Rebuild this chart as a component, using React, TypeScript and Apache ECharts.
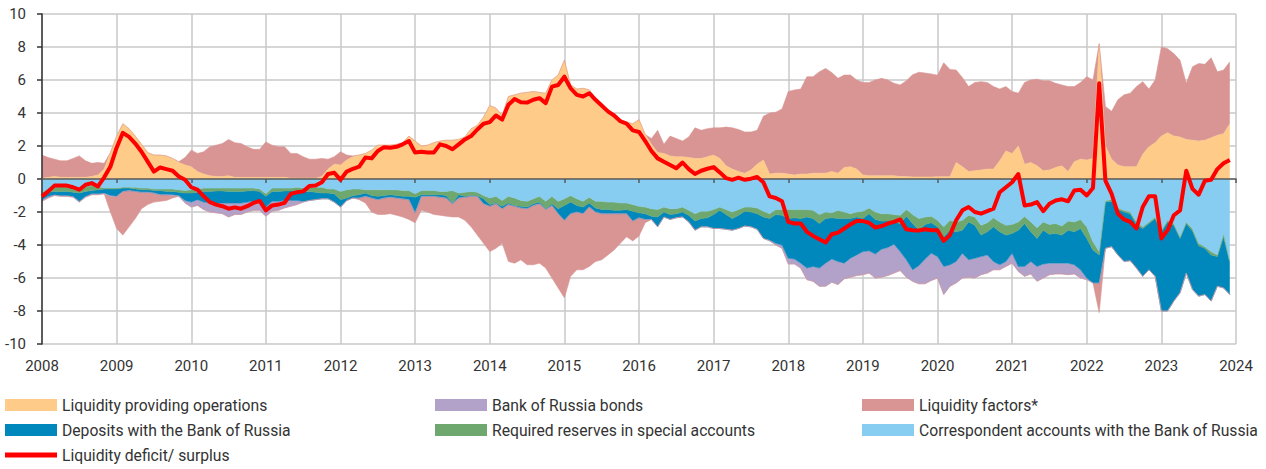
import React, { useEffect, useRef } from "react";
import * as echarts from "echarts";

// Monthly observations, Jan 2008 .. Dec 2023 (trillion roubles)
const liquidityProviding = [
  0.05, 0.1, 0.15, 0.1, 0.1, 0.1, 0.1, 0.1, 0.15, 0.25, 0.6, 1.6,
  2.6, 3.35, 3.05, 2.6, 2.1, 1.6, 1.45, 1.45, 1.4, 1.25, 1.0, 0.85,
  0.75, 0.45, 0.3, 0.2, 0.15, 0.15, 0.2, 0.1, 0.1, 0.1, 0.1, 0.1,
  0.1, 0.1, 0.1, 0.1, 0.05, 0.05, 0.05, 0.05, 0.05, 0.15, 0.6, 0.9,
  0.85, 1.15, 1.35, 1.45, 1.55, 1.75, 2.05, 2.05, 2.05, 2.1, 2.2, 2.6,
  2.3, 2.0, 2.05, 2.2, 2.3, 2.35, 2.35, 2.4, 2.55, 3.05, 3.25, 3.75,
  4.45, 4.3, 3.85, 5.0, 5.1, 5.2, 5.25, 5.3, 5.25, 5.2, 6.0, 6.3,
  7.2, 5.7, 5.45, 5.5, 5.4, 4.9, 4.5, 4.2, 3.85, 3.6, 3.45, 3.35,
  3.6, 2.7, 2.1, 1.6, 1.55, 1.4, 1.35, 1.35, 1.3, 1.25, 1.25, 1.35,
  1.45, 1.25, 0.8, 0.6, 0.45, 0.35, 0.55, 0.9, 1.15, 0.3, 0.35, 0.35,
  0.3, 0.25, 0.3, 0.3, 0.35, 0.35, 0.35, 0.45, 0.35, 0.7, 0.75, 0.6,
  0.25, 0.2, 0.2, 0.2, 0.2, 0.2, 0.15, 0.15, 0.12, 0.12, 0.12, 0.12,
  0.14, 0.14, 0.14, 1.0, 0.75, 0.45, 0.5, 0.55, 0.6, 0.6, 1.1, 1.7,
  1.55, 2.0, 0.9, 1.0, 0.8, 0.5, 0.55, 0.7, 0.8, 0.45, 1.05, 1.2,
  1.15, 1.25, 8.2, 2.0, 1.2, 0.85, 0.75, 0.75, 0.75, 1.5, 1.95, 2.2,
  2.6, 2.8, 2.6, 2.55, 2.4, 2.35, 2.3, 2.35, 2.5, 2.65, 2.75, 3.35,
];

const liquidityFactors = [
  1.4, 1.2, 1.05, 1.0, 1.0, 1.15, 1.3, 1.0, 0.8, 0.75, 0.35, -0.95,
  -1.95, -2.65, -2.2, -1.65, -1.0, -0.75, -0.55, -0.4, -0.35, -0.15, 0.05, 0.45,
  1.0, 1.1, 1.35, 1.75, 1.9, 2.0, 2.2, 2.1, 2.05, 1.85, 1.7, 1.7,
  2.15, 1.95, 1.85, 1.85, 1.5, 1.5, 1.3, 1.15, 1.15, 1.1, 0.6, 0.45,
  0.8, 0.3, 0.05, -0.1, -0.4, -0.85, -0.9, -1.0, -1.0, -1.05, -1.1, -1.2,
  -0.6, -0.85, -0.95, -1.1, -1.1, -1.1, -0.8, -1.15, -1.4, -1.85, -2.35, -2.4,
  -2.75, -2.7, -2.1, -3.45, -3.45, -3.15, -3.4, -3.6, -3.6, -3.55, -4.4, -4.5,
  -4.7, -3.8, -3.5, -3.4, -3.6, -3.0, -2.8, -2.5, -2.2, -1.8, -1.4, -1.2,
  -1.1, -0.2, 0.35, 1.35, 0.55, 1.2, 1.1, 0.95, 1.25, 1.85, 1.7, 1.7,
  1.65, 1.85, 2.35, 2.5, 2.55, 2.5, 2.3, 2.05, 2.65, 3.7, 3.7, 3.9,
  5.0, 5.15, 5.15, 5.9, 5.85, 6.15, 6.35, 6.0, 5.75, 5.6, 5.55, 5.4,
  5.6, 5.65, 5.8, 5.9, 5.8, 5.6, 5.55, 5.8, 6.2, 6.35, 6.3, 6.25,
  6.15, 6.9, 6.5, 5.6, 5.4, 5.15, 5.35, 5.35, 5.25, 5.0, 4.35, 3.9,
  3.75, 3.2, 4.95, 5.0, 5.25, 5.45, 5.4, 5.1, 4.9, 5.15, 4.55, 4.65,
  5.05, 4.75, -1.8, 2.4, 2.9, 3.95, 4.35, 4.45, 4.85, 4.4, 3.5, 3.8,
  5.4, 5.1, 5.0, 4.65, 3.4, 4.45, 4.7, 4.6, 4.85, 3.85, 3.85, 3.75,
];

const correspondentAccounts = [
  -0.85, -0.55, -0.45, -0.45, -0.45, -0.5, -0.55, -0.45, -0.4, -0.45, -0.55, -0.55,
  -0.55, -0.5, -0.5, -0.5, -0.55, -0.55, -0.6, -0.6, -0.6, -0.6, -0.65, -0.7,
  -0.65, -0.6, -0.55, -0.55, -0.55, -0.55, -0.55, -0.55, -0.55, -0.55, -0.55, -0.6,
  -0.9, -0.55, -0.55, -0.55, -0.55, -0.5, -0.55, -0.5, -0.5, -0.5, -0.6, -0.6,
  -0.75, -0.65, -0.6, -0.6, -0.65, -0.65, -0.65, -0.65, -0.65, -0.65, -0.7, -0.7,
  -0.9, -0.7, -0.7, -0.7, -0.75, -0.75, -0.7, -0.85, -0.8, -0.75, -0.8, -1.0,
  -1.15, -1.05, -1.3, -1.05, -1.15, -1.3, -1.35, -1.2, -1.05, -1.35, -1.05, -1.35,
  -1.2, -1.0, -1.2, -1.35, -1.1, -1.35, -1.35, -1.4, -1.4, -1.45, -1.45, -1.55,
  -1.65, -1.7, -1.8, -1.85, -1.7, -1.8, -1.8, -1.7, -1.9, -2.1, -1.95, -1.95,
  -1.85, -1.7, -1.85, -2.0, -1.85, -1.7, -1.7, -1.75, -1.95, -2.1, -1.85, -1.85,
  -1.85, -1.85, -1.85, -1.85, -1.9, -2.15, -2.0, -2.05, -1.9, -2.0, -2.1, -2.0,
  -1.95, -1.75, -2.0, -2.1, -2.1, -2.15, -2.2, -1.85, -2.15, -2.4, -2.3, -2.25,
  -2.5, -2.9, -2.5, -2.6, -2.5, -2.2, -2.3, -2.8, -2.65, -2.35, -2.6, -2.8,
  -2.75, -2.6, -2.25, -2.6, -2.95, -2.6, -2.75, -2.7, -2.85, -2.55, -2.6, -2.45,
  -2.9, -3.8, -4.4, -1.3, -1.25, -1.75, -1.9, -2.0, -2.6, -2.9, -2.6, -2.3,
  -3.1, -2.5, -2.7, -3.5, -2.6, -3.0, -3.9, -4.1, -4.4, -4.6, -3.3, -5.0,
];

const requiredReserves = [
  -0.2, -0.25, -0.3, -0.3, -0.3, -0.3, -0.3, -0.3, -0.3, -0.2, -0.05, -0.05,
  -0.05, -0.05, -0.05, -0.1, -0.1, -0.1, -0.1, -0.1, -0.15, -0.15, -0.15, -0.15,
  -0.2, -0.2, -0.2, -0.2, -0.17, -0.17, -0.2, -0.2, -0.2, -0.17, -0.15, -0.15,
  -0.15, -0.2, -0.2, -0.17, -0.17, -0.2, -0.2, -0.25, -0.3, -0.35, -0.25, -0.3,
  -0.5, -0.5, -0.4, -0.35, -0.2, -0.35, -0.4, -0.35, -0.3, -0.35, -0.35, -0.35,
  -0.2, -0.25, -0.25, -0.25, -0.2, -0.25, -0.75, -0.1, -0.25, -0.25, -0.2, -0.2,
  -0.4, -0.4, -0.35, -0.4, -0.45, -0.35, -0.35, -0.3, -0.35, -0.45, -0.45, -0.45,
  -0.4, -0.4, -0.4, -0.35, -0.35, -0.4, -0.5, -0.45, -0.5, -0.45, -0.4, -0.4,
  -0.4, -0.4, -0.45, -0.45, -0.3, -0.35, -0.3, -0.3, -0.3, -0.45, -0.45, -0.4,
  -0.3, -0.2, -0.3, -0.4, -0.35, -0.25, -0.3, -0.35, -0.35, -0.3, -0.3, -0.35,
  -0.55, -0.5, -0.55, -0.45, -0.5, -0.55, -0.4, -0.3, -0.5, -0.4, -0.3, -0.3,
  -0.45, -0.35, -0.45, -0.45, -0.45, -0.45, -0.5, -0.4, -0.55, -0.7, -0.45, -0.4,
  -0.4, -0.6, -0.6, -0.6, -0.6, -0.4, -0.5, -0.6, -0.55, -0.55, -0.6, -0.6,
  -0.55, -0.5, -0.45, -0.6, -0.65, -0.5, -0.6, -0.6, -0.55, -0.55, -0.6, -0.55,
  -0.7, -0.5, -0.2, -0.1, -0.1, -0.1, -0.1, -0.1, -0.15, -0.1, -0.1, -0.1,
  -0.1, -0.1, -0.1, -0.1, -0.1, -0.15, -0.15, -0.1, -0.2, -0.1, -0.2, -0.05,
];

const deposits = [
  -0.2, -0.25, -0.2, -0.25, -0.25, -0.25, -0.5, -0.3, -0.2, -0.25, -0.25, -0.4,
  -0.45, -0.2, -0.15, -0.15, -0.15, -0.15, -0.15, -0.25, -0.2, -0.2, -0.2, -0.45,
  -0.55, -0.45, -0.65, -0.7, -0.73, -0.73, -0.7, -0.7, -0.7, -0.68, -0.65, -0.65,
  -0.65, -0.6, -0.6, -0.58, -0.58, -0.6, -0.6, -0.55, -0.45, -0.35, -0.35, -0.5,
  -0.45, -0.15, -0.15, -0.2, -0.2, -0.15, -0.2, -0.15, -0.15, -0.15, -0.15, -0.2,
  -0.95, -0.1, -0.1, -0.1, -0.15, -0.15, -0.05, -0.2, -0.05, -0.05, -0.05, -0.3,
  -0.1, -0.05, -0.15, -0.1, -0.05, -0.1, -0.1, -0.1, -0.1, -0.05, -0.1, -0.3,
  -0.9, -0.7, -0.4, -0.4, -0.25, -0.25, -0.25, -0.25, -0.2, -0.2, -0.25, -0.6,
  -0.3, -0.35, -0.2, -0.6, -0.3, -0.3, -0.25, -0.3, -0.4, -0.55, -0.5, -0.55,
  -0.85, -1.1, -0.9, -0.7, -0.8, -0.9, -0.9, -0.95, -1.3, -1.3, -1.75, -1.8,
  -2.4, -2.5, -2.7, -3.1, -2.9, -2.7, -2.7, -2.5, -2.6, -2.7, -2.4, -2.3,
  -2.0, -2.25, -2.1, -1.7, -1.6, -1.35, -1.7, -2.65, -2.8, -2.15, -2.1, -1.85,
  -1.8, -1.8, -2.1, -1.8, -1.4, -2.3, -2.0, -1.3, -1.4, -2.1, -2.0, -1.6,
  -1.2, -2.2, -2.6, -1.8, -1.7, -2.05, -1.75, -1.8, -1.7, -2.0, -2.0, -2.5,
  -2.4, -2.0, -1.7, -2.8, -2.75, -2.75, -3.0, -2.85, -2.65, -2.9, -2.8, -3.5,
  -4.8, -5.4, -4.6, -3.3, -3.0, -3.55, -3.05, -2.8, -2.8, -1.8, -3.1, -1.95,
];

const bankOfRussiaBonds = [
  -0.1, -0.1, -0.05, -0.05, -0.05, -0.05, -0.05, -0.05, -0.05, -0.05, -0.05, -0.05,
  0, 0, 0, 0, 0, 0, 0, 0, 0, -0.05, -0.05, -0.15,
  -0.3, -0.35, -0.45, -0.55, -0.6, -0.65, -0.85, -0.7, -0.7, -0.6, -0.55, -0.5,
  -0.55, -0.6, -0.55, -0.45, -0.35, -0.25, -0.05, 0, 0, 0, 0, 0,
  0, 0, 0, 0, 0, 0, 0, 0, 0, 0, 0, 0,
  0, 0, 0, 0, 0, 0, 0, 0, 0, 0, 0, 0,
  0, 0, 0, 0, 0, 0, 0, 0, 0, 0, 0, 0,
  0, 0, 0, 0, 0, 0, 0, 0, 0, 0, 0, 0,
  0, 0, 0, 0, 0, 0, 0, 0, 0, 0, 0, 0,
  0, 0, 0, 0, 0, 0, 0, 0, 0, -0.05, -0.1, -0.2,
  -0.35, -0.3, -0.3, -0.7, -0.9, -1.1, -1.4, -1.4, -1.4, -0.95, -1.15, -1.25,
  -1.4, -1.35, -1.45, -1.7, -1.7, -1.75, -1.15, -1.05, -0.7, -1.1, -1.5, -1.65,
  -1.3, -1.7, -1.3, -1.3, -1.5, -1.05, -1.2, -1.1, -1.1, -0.5, -0.3, -0.3,
  -0.6, -0.3, -0.6, -0.75, -0.9, -0.85, -0.7, -0.65, -0.65, -0.7, -0.55, -0.5,
  -0.1, 0, 0, 0, 0, 0, 0, 0, 0, 0, 0, 0,
  0, 0, 0, 0, 0, 0, 0, 0, 0, 0, 0, 0,
];

const liquidityDeficitSurplus = [
  -1.05, -0.75, -0.4, -0.4, -0.4, -0.5, -0.65, -0.35, -0.25, -0.45, 0.1, 0.75,
  1.9, 2.8, 2.55, 2.15, 1.65, 1.05, 0.45, 0.7, 0.6, 0.5, 0.15, -0.05,
  -0.5, -0.65, -1.05, -1.4, -1.55, -1.65, -1.8, -1.72, -1.8, -1.65, -1.45, -1.33,
  -1.9, -1.6, -1.55, -1.45, -0.9, -0.8, -0.75, -0.42, -0.4, -0.2, 0.3, 0.38,
  -0.05, 0.45, 0.62, 0.75, 1.3, 1.25, 1.7, 1.93, 1.9, 1.95, 2.1, 2.3,
  1.6, 1.65, 1.6, 1.6, 2.1, 2.0, 1.8, 2.1, 2.4, 2.6, 3.0, 3.35,
  3.45, 3.85, 3.6, 4.5, 4.85, 4.65, 4.63, 4.8, 4.9, 4.6, 5.6, 5.7,
  6.2, 5.5, 5.1, 5.0, 5.2, 4.8, 4.45, 4.1, 3.85, 3.5, 3.35, 2.95,
  2.85, 2.3, 1.7, 1.25, 1.05, 0.85, 0.65, 1.0, 0.6, 0.3, 0.5, 0.62,
  0.72, 0.4, 0.05, -0.05, 0.08, -0.05, 0.02, 0.12, -0.2, -1.05, -1.15, -1.35,
  -2.6, -2.7, -2.7, -3.2, -3.45, -3.65, -3.85, -3.35, -3.25, -3.0, -2.75, -2.55,
  -2.55, -2.65, -2.95, -2.85, -2.7, -2.6, -2.45, -3.05, -3.1, -3.12, -3.05, -3.1,
  -3.1, -3.75, -3.4, -2.5, -1.9, -1.7, -2.0, -2.1, -1.95, -1.8, -0.8, -0.5,
  -0.2, 0.3, -1.6, -1.55, -1.4, -1.95, -1.5, -1.3, -1.23, -1.35, -0.7, -0.65,
  -1.0, -0.55, 5.8, -0.1, -0.9, -2.1, -2.45, -2.6, -3.0, -1.7, -1.05, -1.05,
  -3.6, -3.1, -2.2, -1.9, 0.5, -0.6, -0.95, -0.1, -0.05, 0.6, 0.95, 1.15,
];

const firstYear = 2008;
const lastYear = 2023;
const months: string[] = [];
for (let y = firstYear; y <= lastYear; y++) {
  for (let m = 1; m <= 12; m++) months.push(`${y}-${m < 10 ? "0" + m : m}`);
}
months.push(`${lastYear + 1}-01`);

const NAMES = {
  lpo: "Liquidity providing operations",
  bonds: "Bank of Russia bonds",
  lf: "Liquidity factors*",
  dep: "Deposits with the Bank of Russia",
  rr: "Required reserves in special accounts",
  corr: "Correspondent accounts with the Bank of Russia",
  def: "Liquidity deficit/ surplus",
};

const COLORS = {
  lpo: "#FECB89",
  bonds: "#B2A1C8",
  lf: "#D99594",
  dep: "#0088BC",
  rr: "#6FA86F",
  corr: "#87CDF1",
  def: "#FF0000",
};

const FONT = "Roboto, 'Noto Sans', sans-serif";

export default function App() {
  const ref = useRef<HTMLDivElement>(null);

  useEffect(() => {
    if (!ref.current) return;
    const chart = echarts.init(ref.current, undefined, { renderer: "svg" });

    const lfPos = liquidityFactors.map((v) => (v > 0 ? v : 0));
    const lfNeg = liquidityFactors.map((v) => (v < 0 ? v : 0));

    const area = (name: string, data: number[], color: string) => ({
      name,
      type: "line",
      data,
      stack: "total",
      stackStrategy: "samesign",
      symbol: "none",
      showSymbol: false,
      silent: true,
      lineStyle: { width: 0.6, color },
      itemStyle: { color },
      areaStyle: { color, opacity: 1 },
      emphasis: { disabled: true },
      z: 2,
    });

    const legendBase = {
      itemWidth: 52,
      itemHeight: 12,
      padding: 0,
      selectedMode: false,
      textStyle: { fontSize: 15.7, color: "#333", fontFamily: FONT },
    };

    const leg = (name: string, left: number, top: number, extra: any = {}) => ({
      ...legendBase,
      left,
      top,
      data: [{ name, icon: "rect" }],
      ...extra,
    });

    chart.setOption({
      animation: false,
      backgroundColor: "#ffffff",
      grid: { left: 42, right: 30, top: 14, bottom: 125 },
      xAxis: [
        {
          type: "category",
          data: months,
          boundaryGap: false,
          axisLine: { show: false, onZero: false },
          axisTick: { show: false },
          axisLabel: {
            interval: 11,
            formatter: (v: string) => v.slice(0, 4),
            fontSize: 15,
            color: "#333",
            margin: 14,
            fontFamily: FONT,
          },
          splitLine: { show: true, interval: 11, lineStyle: { color: "#c8c8c8", width: 1.5 } },
        },
        {
          type: "category",
          data: months,
          boundaryGap: false,
          position: "bottom",
          z: 5,
          axisLine: { show: true, onZero: true, lineStyle: { color: "#595959", width: 1.5 } },
          axisTick: { show: true, interval: 11, length: 4, lineStyle: { color: "#595959", width: 1.5 } },
          axisLabel: { show: false },
          splitLine: { show: false },
        },
      ],
      yAxis: [
        {
          type: "value",
          min: -10,
          max: 10,
          interval: 2,
          axisLine: { show: false, onZero: false },
          axisTick: { show: false },
          axisLabel: { fontSize: 15, color: "#333", margin: 16, fontFamily: FONT },
          splitLine: { show: true, lineStyle: { color: "#c8c8c8", width: 1.5 } },
        },
        {
          type: "value",
          min: -10,
          max: 10,
          interval: 2,
          position: "left",
          z: 5,
          axisLine: { show: true, onZero: false, lineStyle: { color: "#333", width: 1.5 } },
          axisTick: { show: true, length: 5, lineStyle: { color: "#333", width: 1.5 } },
          axisLabel: { show: false },
          splitLine: { show: false },
        },
      ],
      legend: [
        leg(NAMES.lpo, 5, 397),
        leg(NAMES.dep, 5, 422),
        leg(NAMES.def, 5, 447, { itemHeight: 5 }),
        leg(NAMES.bonds, 435, 397),
        leg(NAMES.rr, 435, 422),
        leg(NAMES.lf, 862, 397),
        leg(NAMES.corr, 862, 422),
      ],
      series: [
        area(NAMES.lpo, liquidityProviding, COLORS.lpo),
        area(NAMES.lf, lfPos, COLORS.lf),
        area(NAMES.corr, correspondentAccounts, COLORS.corr),
        area(NAMES.rr, requiredReserves, COLORS.rr),
        area(NAMES.dep, deposits, COLORS.dep),
        area(NAMES.bonds, bankOfRussiaBonds, COLORS.bonds),
        area(NAMES.lf, lfNeg, COLORS.lf),
        {
          name: NAMES.def,
          type: "line",
          data: liquidityDeficitSurplus,
          symbol: "none",
          showSymbol: false,
          silent: true,
          lineStyle: { width: 4, color: COLORS.def, join: "round" },
          itemStyle: { color: COLORS.def },
          emphasis: { disabled: true },
          z: 10,
        },
      ],
    });

    return () => chart.dispose();
  }, []);

  return (
    <div
      ref={ref}
      style={{ position: "absolute", left: 0, top: 0, width: 1266, height: 469, background: "#fff" }}
    />
  );
}
